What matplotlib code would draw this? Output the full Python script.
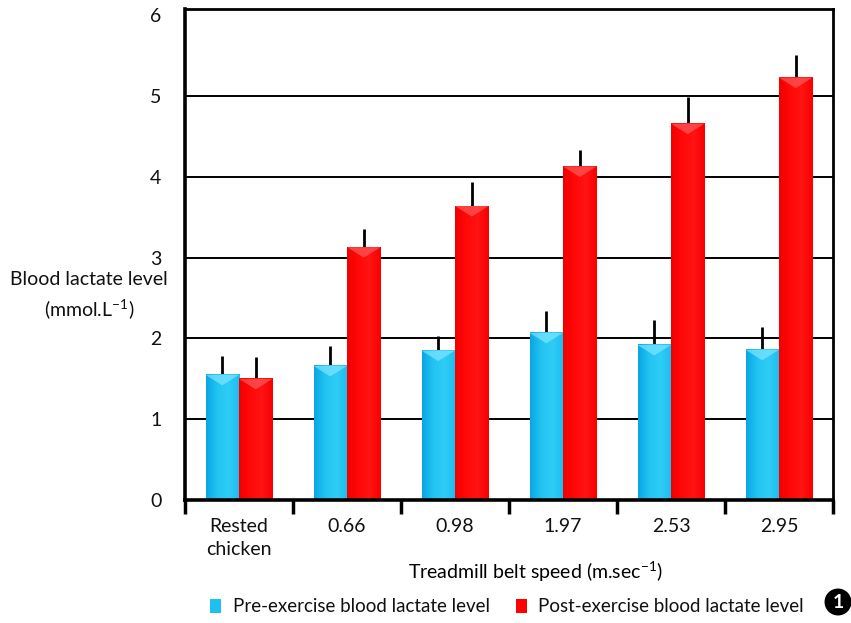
import numpy as np
import matplotlib
matplotlib.use("Agg")
import matplotlib.pyplot as plt
from matplotlib.patches import Polygon
from matplotlib.colors import LinearSegmentedColormap

plt.rcParams['font.family'] = ['Lato', 'DejaVu Sans']
plt.rcParams['mathtext.fontset'] = 'custom'
plt.rcParams['mathtext.rm'] = 'Lato'
plt.rcParams['mathtext.it'] = 'Lato'
plt.rcParams['text.color'] = '#111111'

categories = ["Rested\nchicken", "0.66", "0.98", "1.97", "2.53", "2.95"]
pre_values = [1.55, 1.66, 1.85, 2.07, 1.92, 1.86]
pre_errors = [0.23, 0.25, 0.18, 0.27, 0.31, 0.28]
post_values = [1.50, 3.13, 3.64, 4.13, 4.66, 5.23]
post_errors = [0.27, 0.22, 0.30, 0.21, 0.33, 0.28]
y_ticks = [0, 1, 2, 3, 4, 5, 6]
series_names = ["Pre-exercise blood lactate level", "Post-exercise blood lactate level"]

fig = plt.figure(figsize=(8.51, 6.23), dpi=100)
ax = fig.add_axes([185 / 851, 123 / 623, 648 / 851, 491 / 623])

x = np.arange(len(categories))
w = 0.31

blue_cmap = LinearSegmentedColormap.from_list("b", ["#0aa6e4", "#22c4f2", "#2fccf6", "#1cbdf0"])
red_cmap = LinearSegmentedColormap.from_list("r", ["#f20000", "#ff0808", "#ff1414", "#f80000"])

pre_bars = ax.bar(x - w / 2, pre_values, w, color="#1ec0f0", zorder=2, label=series_names[0])
post_bars = ax.bar(x + w / 2, post_values, w, color="#ff0000", zorder=2, label=series_names[1])

grad = np.linspace(0, 1, 64).reshape(1, -1)
for bars, cmap, tip in ((pre_bars, blue_cmap, "#7fe6ff"), (post_bars, red_cmap, "#ff5a5a")):
    for b in bars:
        bx, by, bw, bh = b.get_x(), b.get_y(), b.get_width(), b.get_height()
        ax.imshow(grad, cmap=cmap, extent=(bx, bx + bw, by, by + bh), aspect="auto", zorder=2.1)
        tri = Polygon([(bx, by + bh), (bx + bw, by + bh), (bx + bw / 2, by + bh - 0.13)],
                      closed=True, color=tip, alpha=0.7, zorder=2.2, lw=0)
        ax.add_patch(tri)

ax.errorbar(x - w / 2, pre_values, yerr=[np.zeros(len(x)), pre_errors], fmt="none",
            ecolor="black", elinewidth=2.0, capsize=0, zorder=1.9)
ax.errorbar(x + w / 2, post_values, yerr=[np.zeros(len(x)), post_errors], fmt="none",
            ecolor="black", elinewidth=2.0, capsize=0, zorder=1.9)

for v in y_ticks[1:-1]:
    ax.axhline(v, color="black", lw=1.4, zorder=1)

ax.set_xlim(-0.5, len(categories) - 0.5)
ax.set_ylim(0, 6.08)
ax.set_yticks(y_ticks)
ax.set_yticklabels([str(v) for v in y_ticks], fontsize=14)
ax.tick_params(axis="y", length=0, pad=17, labelcolor="#111111")

ax.set_xticks(x)
ax.set_xticklabels(categories, fontsize=14, linespacing=1.45, va="top")
ax.tick_params(axis="x", which="major", length=0, pad=13, labelcolor="#111111")
ax.set_xticks(np.arange(len(categories) + 1) - 0.5, minor=True)
ax.tick_params(axis="x", which="minor", length=10, width=2.5, direction="out", color="black")

for side, lw in (("left", 2.6), ("bottom", 2.6), ("right", 2.0), ("top", 2.0)):
    ax.spines[side].set_linewidth(lw)
    ax.spines[side].set_color("black")

ax.set_xlabel(r"Treadmill belt speed (m.sec$^{-1}$)", fontsize=14, labelpad=0)
ax.xaxis.set_label_coords((535 - 185) / 648, -60 / 491)
fig.text(89 / 851, 1 - 296 / 623, "Blood lactate level\n" + r"(mmol.L$^{-1}$)",
         ha="center", va="center", fontsize=14, linespacing=1.5)

fig.legend(handles=[pre_bars, post_bars], labels=series_names, loc="center",
           bbox_to_anchor=(507 / 851, 1 - 607 / 623), ncol=2, frameon=False,
           fontsize=13.5, handlelength=0.6, handleheight=0.7, handletextpad=0.6,
           columnspacing=1.4)

fig.text(838 / 851, 1 - 602 / 623, "1", ha="center", va="center", color="white",
         fontsize=14, fontweight="bold",
         bbox=dict(boxstyle="circle,pad=0.22", fc="black", ec="black"))

fig.savefig("out.png", dpi=100)
